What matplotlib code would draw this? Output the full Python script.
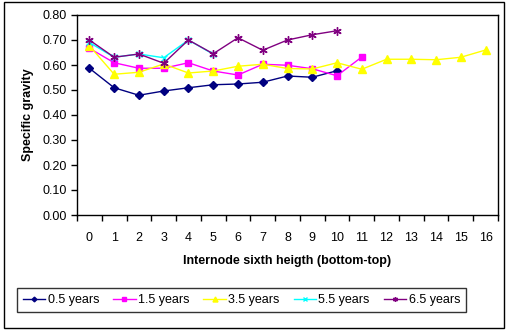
import matplotlib
matplotlib.use("Agg")
import matplotlib.pyplot as plt
from matplotlib.patches import Rectangle

plt.rcParams['font.family'] = ['Liberation Sans', 'DejaVu Sans']

categories = [str(i) for i in range(17)]
y_ticks = [0.0, 0.1, 0.2, 0.3, 0.4, 0.5, 0.6, 0.7, 0.8]

s05 = [0.587, 0.509, 0.479, 0.496, 0.509, 0.521, 0.524, 0.531, 0.556, 0.551, 0.577]
s15 = [0.667, 0.609, 0.587, 0.587, 0.609, 0.576, 0.560, 0.603, 0.599, 0.585, 0.557, 0.632]
s35 = [0.677, 0.563, 0.571, 0.604, 0.568, 0.576, 0.595, 0.603, 0.586, 0.584, 0.609,
       0.583, 0.623, 0.623, 0.621, 0.631, 0.660]
s55 = [0.690, 0.631, 0.644, 0.629, 0.700, 0.643]
s65 = [0.700, 0.631, 0.644, 0.607, 0.700, 0.645, 0.709, 0.659, 0.700, 0.721, 0.737]

series = [
    ("0.5 years", s05, "#000080", "D", 4),
    ("1.5 years", s15, "#FF00FF", "s", 5),
    ("3.5 years", s35, "#FFFF00", "^", 6),
    ("5.5 years", s55, "#00FFFF", "x", 4.5),
    ("6.5 years", s65, "#800080", (6, 2, 0), 6),
]

fig = plt.figure(figsize=(5.11, 3.32), dpi=100)
ax = fig.add_axes([77/511, 117/332, 421/511, 200/332])

for label, vals, col, mk, ms in series:
    xs = [i + 0.5 for i in range(len(vals))]
    ax.plot(xs, vals, color=col, marker=mk, markersize=ms, linewidth=1.0,
            markeredgewidth=1.0, label=label)

ax.set_xlim(0, 17)
ax.set_ylim(0, 0.8)
ax.set_xticks(range(18))
ax.set_xticklabels([])
ax.set_xticks([i + 0.5 for i in range(17)], minor=True)
ax.set_xticklabels(categories, minor=True)
ax.tick_params(axis='x', which='minor', length=0, pad=12, labelsize=9)
ax.tick_params(axis='x', which='major', length=4, direction='out', width=1)
ax.set_yticks(y_ticks)
ax.set_yticklabels([f"{v:.2f}" for v in y_ticks])
ax.tick_params(axis='y', length=4, direction='out', labelsize=9, width=1)
for sp in ax.spines.values():
    sp.set_linewidth(1.0)
    sp.set_color('black')

ax.set_ylabel("Specific gravity", fontsize=9, fontweight='bold', labelpad=6)
ax.set_xlabel("Internode sixth heigth (bottom-top)", fontsize=9, fontweight='bold', labelpad=8)

handles, labels = ax.get_legend_handles_labels()
leg = fig.legend(handles, labels, loc='center',
                 bbox_to_anchor=((12 + 471) / 2 / 511, 1 - 300 / 332),
                 ncol=5, fontsize=9, frameon=True, fancybox=False,
                 edgecolor='black', handlelength=1.8, handletextpad=0.2,
                 columnspacing=1.1, borderpad=0.45, markerscale=0.6)
leg.get_frame().set_linewidth(1.0)

fig.patches.append(Rectangle((4/511, 4/332), 500/511, 326/332, transform=fig.transFigure,
                             fill=False, edgecolor='black', linewidth=1.0))

fig.savefig("out.png", dpi=100)
